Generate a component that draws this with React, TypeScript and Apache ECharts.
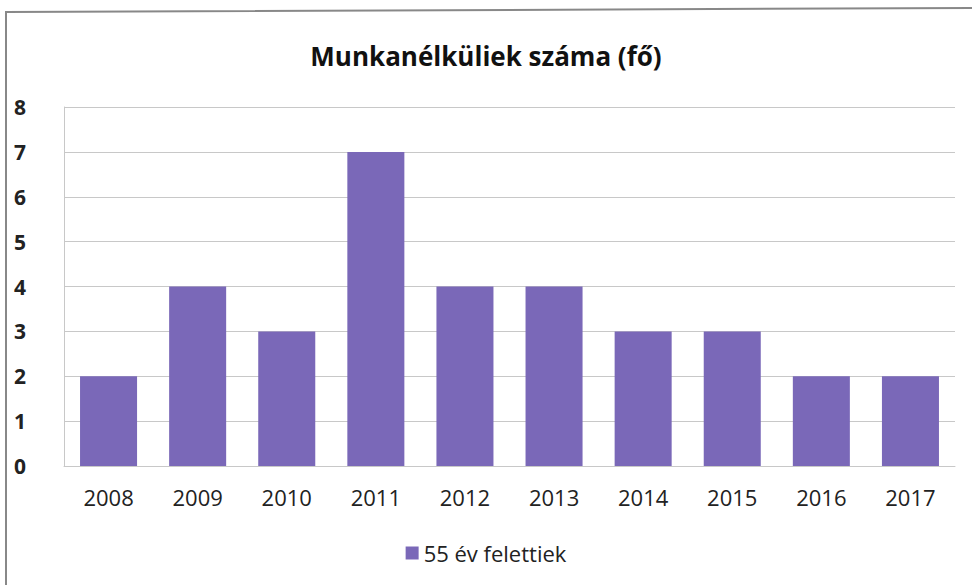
import React, { useEffect, useRef } from "react";
import * as echarts from "echarts";

const years = ["2008", "2009", "2010", "2011", "2012", "2013", "2014", "2015", "2016", "2017"];
const values = [2, 4, 3, 7, 4, 4, 3, 3, 2, 2];
const seriesName = "55 év felettiek";
const title = "Munkanélküliek száma (fő)";

export default function App() {
  const ref = useRef<HTMLDivElement>(null);
  useEffect(() => {
    const chart = echarts.init(ref.current!, null, { renderer: "svg" });
    chart.setOption({
      animation: false,
      backgroundColor: "#ffffff",
      title: {
        text: title,
        left: "center",
        top: 38,
        textStyle: { fontFamily: "Open Sans", fontWeight: "bold", fontSize: 26, color: "#111" },
      },
      legend: {
        bottom: 16,
        left: "center",
        itemWidth: 13,
        itemHeight: 13,
        icon: "rect",
        itemGap: 8,
        textStyle: { fontFamily: "Open Sans", fontSize: 22, color: "#222" },
        data: [seriesName],
      },
      graphic: [
        {
          type: "polyline",
          shape: { points: [[6, 585], [6, 12], [972, 8]] },
          style: { stroke: "#888", lineWidth: 2, fill: "none" },
        },
      ],
      grid: { left: 64, right: 17, top: 107, bottom: 119 },
      xAxis: {
        type: "category",
        data: years,
        axisLine: { show: true, lineStyle: { color: "#c8c8c8" } },
        axisTick: { show: false },
        axisLabel: { fontFamily: "Open Sans", fontSize: 22, color: "#222", margin: 20 },
      },
      yAxis: {
        type: "value",
        min: 0,
        max: 8,
        interval: 1,
        axisLine: { show: true, lineStyle: { color: "#c8c8c8" } },
        axisLabel: { fontFamily: "Open Sans", fontSize: 21, fontWeight: "bold", color: "#222", margin: 50, align: "left" },
        splitLine: { lineStyle: { color: "#c8c8c8", width: 1 } },
      },
      series: [
        {
          name: seriesName,
          type: "bar",
          data: values,
          barCategoryGap: "36%",
          itemStyle: { color: "#7a68b8" },
        },
      ],
    });
    return () => chart.dispose();
  }, []);
  return <div ref={ref} style={{ width: 972, height: 585, position: "absolute", left: 0, top: 0 }} />;
}
